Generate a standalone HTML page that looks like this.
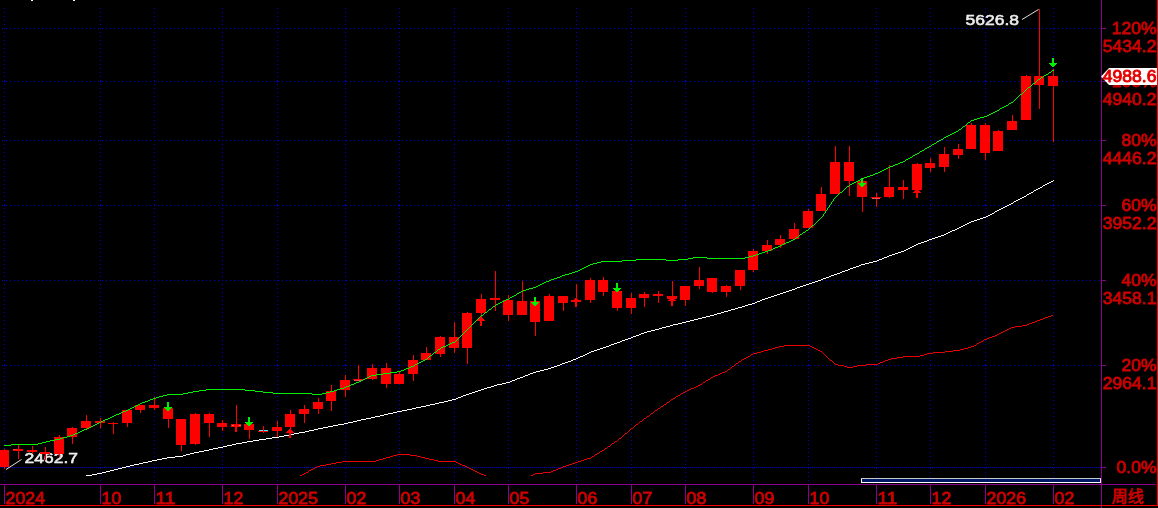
<!DOCTYPE html>
<html lang="zh"><head><meta charset="utf-8"><title>周线</title>
<style>html,body{margin:0;padding:0;background:#000;overflow:hidden}svg{display:block}text{font-family:"Liberation Sans","Noto Sans CJK SC",sans-serif;font-weight:normal;font-size:16px;stroke-width:0.8px;stroke-linejoin:round}</style>
</head><body>
<svg width="1158" height="508" viewBox="0 0 1158 508" shape-rendering="crispEdges">
<rect width="1158" height="508" fill="#000"/>
<rect x="31" y="0" width="2" height="1" fill="#fff"/><rect x="73" y="0" width="2" height="1" fill="#fff"/>
<g stroke="#0000d8" stroke-width="1" fill="none">
<line x1="4.5" y1="8" x2="4.5" y2="481" stroke-dasharray="1 3"/>
<line x1="100.5" y1="8" x2="100.5" y2="481" stroke-dasharray="1 3"/>
<line x1="154.5" y1="8" x2="154.5" y2="481" stroke-dasharray="1 3"/>
<line x1="222.5" y1="8" x2="222.5" y2="481" stroke-dasharray="1 3"/>
<line x1="277.5" y1="8" x2="277.5" y2="481" stroke-dasharray="1 3"/>
<line x1="345.5" y1="8" x2="345.5" y2="481" stroke-dasharray="1 3"/>
<line x1="399.5" y1="8" x2="399.5" y2="481" stroke-dasharray="1 3"/>
<line x1="454.5" y1="8" x2="454.5" y2="481" stroke-dasharray="1 3"/>
<line x1="508.5" y1="8" x2="508.5" y2="481" stroke-dasharray="1 3"/>
<line x1="576.5" y1="8" x2="576.5" y2="481" stroke-dasharray="1 3"/>
<line x1="631.5" y1="8" x2="631.5" y2="481" stroke-dasharray="1 3"/>
<line x1="685.5" y1="8" x2="685.5" y2="481" stroke-dasharray="1 3"/>
<line x1="753.5" y1="8" x2="753.5" y2="481" stroke-dasharray="1 3"/>
<line x1="808.5" y1="8" x2="808.5" y2="481" stroke-dasharray="1 3"/>
<line x1="876.5" y1="8" x2="876.5" y2="481" stroke-dasharray="1 3"/>
<line x1="930.5" y1="8" x2="930.5" y2="481" stroke-dasharray="1 3"/>
<line x1="985.5" y1="8" x2="985.5" y2="481" stroke-dasharray="1 3"/>
<line x1="1053.5" y1="8" x2="1053.5" y2="481" stroke-dasharray="1 3"/>
<line x1="2" y1="28.5" x2="1101" y2="28.5" stroke-dasharray="1 3"/>
<line x1="2" y1="81.5" x2="1101" y2="81.5" stroke-dasharray="1 3"/>
<line x1="2" y1="140.5" x2="1101" y2="140.5" stroke-dasharray="1 3"/>
<line x1="2" y1="205.5" x2="1101" y2="205.5" stroke-dasharray="1 3"/>
<line x1="2" y1="280.5" x2="1101" y2="280.5" stroke-dasharray="1 3"/>
<line x1="2" y1="365.5" x2="1101" y2="365.5" stroke-dasharray="1 3"/>
<line x1="0" y1="467.5" x2="1101" y2="467.5" stroke-dasharray="1 1"/>
</g>
<g fill="#0000d8">
<rect x="4" y="28" width="1" height="1"/>
<rect x="4" y="81" width="1" height="1"/>
<rect x="4" y="140" width="1" height="1"/>
<rect x="4" y="205" width="1" height="1"/>
<rect x="4" y="280" width="1" height="1"/>
<rect x="4" y="365" width="1" height="1"/>
<rect x="100" y="28" width="1" height="1"/>
<rect x="100" y="81" width="1" height="1"/>
<rect x="100" y="140" width="1" height="1"/>
<rect x="100" y="205" width="1" height="1"/>
<rect x="100" y="280" width="1" height="1"/>
<rect x="100" y="365" width="1" height="1"/>
<rect x="154" y="28" width="1" height="1"/>
<rect x="154" y="81" width="1" height="1"/>
<rect x="154" y="140" width="1" height="1"/>
<rect x="154" y="205" width="1" height="1"/>
<rect x="154" y="280" width="1" height="1"/>
<rect x="154" y="365" width="1" height="1"/>
<rect x="222" y="28" width="1" height="1"/>
<rect x="222" y="81" width="1" height="1"/>
<rect x="222" y="140" width="1" height="1"/>
<rect x="222" y="205" width="1" height="1"/>
<rect x="222" y="280" width="1" height="1"/>
<rect x="222" y="365" width="1" height="1"/>
<rect x="277" y="28" width="1" height="1"/>
<rect x="277" y="81" width="1" height="1"/>
<rect x="277" y="140" width="1" height="1"/>
<rect x="277" y="205" width="1" height="1"/>
<rect x="277" y="280" width="1" height="1"/>
<rect x="277" y="365" width="1" height="1"/>
<rect x="345" y="28" width="1" height="1"/>
<rect x="345" y="81" width="1" height="1"/>
<rect x="345" y="140" width="1" height="1"/>
<rect x="345" y="205" width="1" height="1"/>
<rect x="345" y="280" width="1" height="1"/>
<rect x="345" y="365" width="1" height="1"/>
<rect x="399" y="28" width="1" height="1"/>
<rect x="399" y="81" width="1" height="1"/>
<rect x="399" y="140" width="1" height="1"/>
<rect x="399" y="205" width="1" height="1"/>
<rect x="399" y="280" width="1" height="1"/>
<rect x="399" y="365" width="1" height="1"/>
<rect x="454" y="28" width="1" height="1"/>
<rect x="454" y="81" width="1" height="1"/>
<rect x="454" y="140" width="1" height="1"/>
<rect x="454" y="205" width="1" height="1"/>
<rect x="454" y="280" width="1" height="1"/>
<rect x="454" y="365" width="1" height="1"/>
<rect x="508" y="28" width="1" height="1"/>
<rect x="508" y="81" width="1" height="1"/>
<rect x="508" y="140" width="1" height="1"/>
<rect x="508" y="205" width="1" height="1"/>
<rect x="508" y="280" width="1" height="1"/>
<rect x="508" y="365" width="1" height="1"/>
<rect x="576" y="28" width="1" height="1"/>
<rect x="576" y="81" width="1" height="1"/>
<rect x="576" y="140" width="1" height="1"/>
<rect x="576" y="205" width="1" height="1"/>
<rect x="576" y="280" width="1" height="1"/>
<rect x="576" y="365" width="1" height="1"/>
<rect x="631" y="28" width="1" height="1"/>
<rect x="631" y="81" width="1" height="1"/>
<rect x="631" y="140" width="1" height="1"/>
<rect x="631" y="205" width="1" height="1"/>
<rect x="631" y="280" width="1" height="1"/>
<rect x="631" y="365" width="1" height="1"/>
<rect x="685" y="28" width="1" height="1"/>
<rect x="685" y="81" width="1" height="1"/>
<rect x="685" y="140" width="1" height="1"/>
<rect x="685" y="205" width="1" height="1"/>
<rect x="685" y="280" width="1" height="1"/>
<rect x="685" y="365" width="1" height="1"/>
<rect x="753" y="28" width="1" height="1"/>
<rect x="753" y="81" width="1" height="1"/>
<rect x="753" y="140" width="1" height="1"/>
<rect x="753" y="205" width="1" height="1"/>
<rect x="753" y="280" width="1" height="1"/>
<rect x="753" y="365" width="1" height="1"/>
<rect x="808" y="28" width="1" height="1"/>
<rect x="808" y="81" width="1" height="1"/>
<rect x="808" y="140" width="1" height="1"/>
<rect x="808" y="205" width="1" height="1"/>
<rect x="808" y="280" width="1" height="1"/>
<rect x="808" y="365" width="1" height="1"/>
<rect x="876" y="28" width="1" height="1"/>
<rect x="876" y="81" width="1" height="1"/>
<rect x="876" y="140" width="1" height="1"/>
<rect x="876" y="205" width="1" height="1"/>
<rect x="876" y="280" width="1" height="1"/>
<rect x="876" y="365" width="1" height="1"/>
<rect x="930" y="28" width="1" height="1"/>
<rect x="930" y="81" width="1" height="1"/>
<rect x="930" y="140" width="1" height="1"/>
<rect x="930" y="205" width="1" height="1"/>
<rect x="930" y="280" width="1" height="1"/>
<rect x="930" y="365" width="1" height="1"/>
<rect x="985" y="28" width="1" height="1"/>
<rect x="985" y="81" width="1" height="1"/>
<rect x="985" y="140" width="1" height="1"/>
<rect x="985" y="205" width="1" height="1"/>
<rect x="985" y="280" width="1" height="1"/>
<rect x="985" y="365" width="1" height="1"/>
<rect x="1053" y="28" width="1" height="1"/>
<rect x="1053" y="81" width="1" height="1"/>
<rect x="1053" y="140" width="1" height="1"/>
<rect x="1053" y="205" width="1" height="1"/>
<rect x="1053" y="280" width="1" height="1"/>
<rect x="1053" y="365" width="1" height="1"/>
</g>
<clipPath id="cp"><rect x="0" y="0" width="1101" height="476"/></clipPath>
<path d="M397 454h13v1h-13zM393 455h4v1h-4zM410 455h7v1h-7zM390 456h3v1h-3zM417 456h4v1h-4zM386 457h4v1h-4zM421 457h4v1h-4zM383 458h3v1h-3zM425 458h4v1h-4zM379 459h4v1h-4zM429 459h5v1h-5zM376 460h3v1h-3zM434 460h4v1h-4zM342 461h34v1h-34zM438 461h18v1h-18zM336 462h6v1h-6zM456 462h2v1h-2zM331 463h5v1h-5zM458 463h2v1h-2zM326 464h5v1h-5zM460 464h2v1h-2zM320 465h6v1h-6zM462 465h3v1h-3zM317 466h3v1h-3zM465 466h2v1h-2zM315 467h2v1h-2zM467 467h2v1h-2zM313 468h2v1h-2zM469 468h2v1h-2zM311 469h2v1h-2zM471 469h2v1h-2zM309 470h2v1h-2zM473 470h2v1h-2zM308 471h1v1h-1zM475 471h2v1h-2zM306 472h2v1h-2zM477 472h2v1h-2zM304 473h2v1h-2zM479 473h2v1h-2zM302 474h2v1h-2zM481 474h3v1h-3zM300 475h2v1h-2zM484 475h2v1h-2z" fill="#e80000"/>
<path d="M1051 315h2v1h-2zM1048 316h3v1h-3zM1045 317h3v1h-3zM1043 318h2v1h-2zM1040 319h3v1h-3zM1037 320h3v1h-3zM1035 321h2v1h-2zM1032 322h3v1h-3zM1029 323h3v1h-3zM1027 324h2v1h-2zM1022 325h5v1h-5zM1015 326h7v1h-7zM1011 327h4v1h-4zM1009 328h2v1h-2zM1007 329h2v1h-2zM1005 330h2v1h-2zM1003 331h2v1h-2zM1001 332h2v1h-2zM999 333h2v1h-2zM997 334h2v1h-2zM995 335h2v1h-2zM992 336h3v1h-3zM989 337h3v1h-3zM987 338h2v1h-2zM984 339h3v1h-3zM983 340h1v1h-1zM981 341h2v1h-2zM979 342h2v1h-2zM977 343h2v1h-2zM976 344h1v1h-1zM784 345h26v1h-26zM974 345h2v1h-2zM779 346h5v1h-5zM810 346h2v1h-2zM971 346h3v1h-3zM775 347h4v1h-4zM812 347h2v1h-2zM968 347h3v1h-3zM772 348h3v1h-3zM814 348h2v1h-2zM964 348h4v1h-4zM768 349h4v1h-4zM816 349h2v1h-2zM960 349h4v1h-4zM764 350h4v1h-4zM818 350h2v1h-2zM953 350h7v1h-7zM761 351h3v1h-3zM820 351h2v1h-2zM945 351h8v1h-8zM757 352h4v1h-4zM822 352h1v1h-1zM933 352h12v1h-12zM753 353h4v1h-4zM823 353h1v1h-1zM927 353h6v1h-6zM751 354h2v1h-2zM824 354h1v1h-1zM924 354h3v1h-3zM750 355h1v1h-1zM825 355h1v1h-1zM920 355h4v1h-4zM748 356h2v1h-2zM826 356h1v1h-1zM903 356h17v1h-17zM746 357h2v1h-2zM827 357h1v1h-1zM897 357h6v1h-6zM744 358h2v1h-2zM828 358h1v1h-1zM891 358h6v1h-6zM742 359h2v1h-2zM829 359h1v1h-1zM888 359h3v1h-3zM741 360h1v1h-1zM830 360h2v1h-2zM885 360h3v1h-3zM739 361h2v1h-2zM832 361h1v1h-1zM883 361h2v1h-2zM738 362h1v1h-1zM833 362h1v1h-1zM880 362h3v1h-3zM736 363h2v1h-2zM834 363h1v1h-1zM878 363h2v1h-2zM735 364h1v1h-1zM835 364h3v1h-3zM866 364h12v1h-12zM734 365h1v1h-1zM838 365h6v1h-6zM857 365h9v1h-9zM732 366h2v1h-2zM844 366h3v1h-3zM853 366h4v1h-4zM731 367h1v1h-1zM847 367h6v1h-6zM730 368h1v1h-1zM728 369h2v1h-2zM727 370h1v1h-1zM725 371h2v1h-2zM722 372h3v1h-3zM720 373h2v1h-2zM718 374h2v1h-2zM715 375h3v1h-3zM713 376h2v1h-2zM711 377h2v1h-2zM710 378h1v1h-1zM708 379h2v1h-2zM706 380h2v1h-2zM705 381h1v1h-1zM703 382h2v1h-2zM702 383h1v1h-1zM700 384h2v1h-2zM698 385h2v1h-2zM696 386h2v1h-2zM694 387h2v1h-2zM691 388h3v1h-3zM689 389h2v1h-2zM687 390h2v1h-2zM685 391h2v1h-2zM683 392h2v1h-2zM681 393h2v1h-2zM680 394h1v1h-1zM678 395h2v1h-2zM676 396h2v1h-2zM675 397h1v1h-1zM673 398h2v1h-2zM671 399h2v1h-2zM670 400h1v1h-1zM669 401h1v1h-1zM667 402h2v1h-2zM666 403h1v1h-1zM664 404h2v1h-2zM663 405h1v1h-1zM661 406h2v1h-2zM660 407h1v1h-1zM658 408h2v1h-2zM657 409h1v1h-1zM655 410h2v1h-2zM654 411h1v1h-1zM653 412h1v1h-1zM651 413h2v1h-2zM650 414h1v1h-1zM649 415h1v1h-1zM647 416h2v1h-2zM646 417h1v1h-1zM644 418h2v1h-2zM643 419h1v1h-1zM642 420h1v1h-1zM640 421h2v1h-2zM639 422h1v1h-1zM638 423h1v1h-1zM636 424h2v1h-2zM635 425h1v1h-1zM634 426h1v1h-1zM633 427h1v1h-1zM631 428h2v1h-2zM630 429h1v1h-1zM629 430h1v1h-1zM628 431h1v1h-1zM627 432h1v1h-1zM625 433h2v1h-2zM624 434h1v1h-1zM623 435h1v1h-1zM622 436h1v1h-1zM621 437h1v1h-1zM619 438h2v1h-2zM618 439h1v1h-1zM617 440h1v1h-1zM615 441h2v1h-2zM614 442h1v1h-1zM612 443h2v1h-2zM611 444h1v1h-1zM610 445h1v1h-1zM608 446h2v1h-2zM607 447h1v1h-1zM605 448h2v1h-2zM604 449h1v1h-1zM602 450h2v1h-2zM600 451h2v1h-2zM599 452h1v1h-1zM597 453h2v1h-2zM595 454h2v1h-2zM594 455h1v1h-1zM592 456h2v1h-2zM591 457h1v1h-1zM587 458h4v1h-4zM584 459h3v1h-3zM581 460h3v1h-3zM578 461h3v1h-3zM575 462h3v1h-3zM572 463h3v1h-3zM569 464h3v1h-3zM566 465h3v1h-3zM563 466h3v1h-3zM561 467h2v1h-2zM558 468h3v1h-3zM556 469h2v1h-2zM553 470h3v1h-3zM551 471h2v1h-2zM543 472h8v1h-8zM535 473h8v1h-8zM533 474h2v1h-2zM531 475h2v1h-2z" fill="#e80000"/>
<g shape-rendering="auto"><line x1="6" y1="469.5" x2="21.5" y2="459.5" stroke="#e0e0e0" stroke-width="1"/><line x1="1022" y1="19.5" x2="1038.5" y2="9.5" stroke="#e0e0e0" stroke-width="1"/></g>
<text x="24.5" y="463.4" fill="#ececec" stroke="#ececec" style="stroke-width:0.6px;font-size:15.5px" textLength="53.5" lengthAdjust="spacingAndGlyphs">2462.7</text>
<text x="965.5" y="25.4" fill="#ececec" stroke="#ececec" style="stroke-width:0.6px;font-size:15.5px" textLength="53.5" lengthAdjust="spacingAndGlyphs">5626.8</text>
<g fill="#ff0000">
<rect x="0" y="450" width="9" height="17"/><rect x="4" y="449" width="1" height="20"/>
<rect x="54" y="437" width="10" height="17"/><rect x="59" y="435" width="1" height="22"/>
<rect x="67" y="428" width="10" height="9"/><rect x="72" y="427" width="1" height="17"/>
<rect x="81" y="421" width="10" height="7"/><rect x="86" y="415" width="1" height="15"/>
<rect x="122" y="410" width="10" height="13"/><rect x="127" y="410" width="1" height="17"/>
<rect x="135" y="405" width="10" height="5"/><rect x="140" y="405" width="1" height="8"/>
<rect x="149" y="405" width="10" height="3"/><rect x="154" y="397" width="1" height="13"/>
<rect x="163" y="408" width="10" height="11"/><rect x="168" y="408" width="1" height="20"/>
<rect x="176" y="419" width="10" height="26"/><rect x="181" y="419" width="1" height="32"/>
<rect x="190" y="414" width="10" height="30"/><rect x="195" y="413" width="1" height="32"/>
<rect x="204" y="414" width="10" height="9"/><rect x="209" y="413" width="1" height="24"/>
<rect x="217" y="423" width="10" height="4"/><rect x="222" y="420" width="1" height="11"/>
<rect x="244" y="424" width="10" height="6"/><rect x="249" y="424" width="1" height="15"/>
<rect x="272" y="427" width="10" height="4"/><rect x="277" y="421" width="1" height="16"/>
<rect x="285" y="414" width="10" height="13"/><rect x="290" y="410" width="1" height="19"/>
<rect x="299" y="409" width="10" height="5"/><rect x="304" y="405" width="1" height="18"/>
<rect x="313" y="402" width="10" height="7"/><rect x="318" y="398" width="1" height="16"/>
<rect x="326" y="391" width="10" height="10"/><rect x="331" y="385" width="1" height="26"/>
<rect x="340" y="380" width="10" height="10"/><rect x="345" y="375" width="1" height="22"/>
<rect x="367" y="368" width="10" height="11"/><rect x="372" y="364" width="1" height="16"/>
<rect x="381" y="368" width="10" height="16"/><rect x="386" y="363" width="1" height="25"/>
<rect x="394" y="374" width="10" height="10"/><rect x="399" y="371" width="1" height="13"/>
<rect x="408" y="360" width="10" height="14"/><rect x="413" y="355" width="1" height="26"/>
<rect x="421" y="353" width="10" height="7"/><rect x="426" y="347" width="1" height="13"/>
<rect x="435" y="337" width="10" height="17"/><rect x="440" y="336" width="1" height="21"/>
<rect x="449" y="337" width="10" height="11"/><rect x="454" y="322" width="1" height="31"/>
<rect x="462" y="313" width="10" height="35"/><rect x="467" y="312" width="1" height="52"/>
<rect x="476" y="299" width="10" height="14"/><rect x="481" y="294" width="1" height="23"/>
<rect x="503" y="300" width="10" height="15"/><rect x="508" y="295" width="1" height="26"/>
<rect x="517" y="301" width="10" height="14"/><rect x="522" y="281" width="1" height="34"/>
<rect x="530" y="301" width="10" height="21"/><rect x="535" y="301" width="1" height="35"/>
<rect x="544" y="296" width="10" height="25"/><rect x="549" y="294" width="1" height="27"/>
<rect x="558" y="296" width="10" height="7"/><rect x="563" y="296" width="1" height="15"/>
<rect x="585" y="280" width="10" height="20"/><rect x="590" y="278" width="1" height="25"/>
<rect x="598" y="280" width="10" height="12"/><rect x="603" y="277" width="1" height="19"/>
<rect x="612" y="291" width="10" height="17"/><rect x="617" y="291" width="1" height="20"/>
<rect x="626" y="298" width="10" height="10"/><rect x="631" y="293" width="1" height="21"/>
<rect x="639" y="294" width="10" height="4"/><rect x="644" y="292" width="1" height="15"/>
<rect x="667" y="296" width="10" height="3"/><rect x="672" y="281" width="1" height="18"/>
<rect x="680" y="286" width="10" height="14"/><rect x="685" y="286" width="1" height="20"/>
<rect x="694" y="280" width="10" height="6"/><rect x="699" y="267" width="1" height="22"/>
<rect x="707" y="278" width="10" height="14"/><rect x="712" y="278" width="1" height="15"/>
<rect x="721" y="286" width="10" height="6"/><rect x="726" y="285" width="1" height="12"/>
<rect x="735" y="270" width="10" height="16"/><rect x="740" y="270" width="1" height="20"/>
<rect x="748" y="251" width="10" height="19"/><rect x="753" y="249" width="1" height="23"/>
<rect x="762" y="245" width="10" height="6"/><rect x="767" y="240" width="1" height="14"/>
<rect x="775" y="239" width="10" height="6"/><rect x="780" y="235" width="1" height="13"/>
<rect x="789" y="229" width="10" height="10"/><rect x="794" y="223" width="1" height="16"/>
<rect x="803" y="211" width="10" height="17"/><rect x="808" y="209" width="1" height="19"/>
<rect x="816" y="194" width="10" height="17"/><rect x="821" y="187" width="1" height="24"/>
<rect x="830" y="162" width="10" height="32"/><rect x="835" y="146" width="1" height="48"/>
<rect x="844" y="162" width="10" height="19"/><rect x="849" y="146" width="1" height="50"/>
<rect x="857" y="181" width="10" height="16"/><rect x="862" y="181" width="1" height="31"/>
<rect x="884" y="187" width="10" height="10"/><rect x="889" y="165" width="1" height="33"/>
<rect x="898" y="187" width="10" height="3"/><rect x="903" y="180" width="1" height="19"/>
<rect x="912" y="164" width="10" height="26"/><rect x="917" y="163" width="1" height="27"/>
<rect x="925" y="163" width="10" height="5"/><rect x="930" y="158" width="1" height="14"/>
<rect x="939" y="154" width="10" height="13"/><rect x="944" y="147" width="1" height="25"/>
<rect x="953" y="149" width="10" height="6"/><rect x="958" y="144" width="1" height="15"/>
<rect x="966" y="125" width="10" height="24"/><rect x="971" y="123" width="1" height="26"/>
<rect x="980" y="125" width="10" height="28"/><rect x="985" y="123" width="1" height="37"/>
<rect x="993" y="131" width="10" height="20"/><rect x="998" y="130" width="1" height="21"/>
<rect x="1007" y="121" width="10" height="9"/><rect x="1012" y="115" width="1" height="15"/>
<rect x="1021" y="76" width="10" height="44"/><rect x="1026" y="75" width="1" height="45"/>
<rect x="1034" y="76" width="10" height="9"/><rect x="1039" y="9" width="1" height="100"/>
<rect x="1048" y="76" width="10" height="10"/><rect x="1053" y="69" width="1" height="73"/>
<rect x="13" y="449" width="10" height="2"/><rect x="18" y="445" width="1" height="14"/>
<rect x="27" y="450" width="10" height="2"/><rect x="32" y="446" width="1" height="8"/>
<rect x="40" y="452" width="10" height="2"/><rect x="45" y="447" width="1" height="13"/>
<rect x="95" y="421" width="10" height="2"/><rect x="100" y="418" width="1" height="10"/>
<rect x="108" y="423" width="10" height="1"/><rect x="113" y="422" width="1" height="12"/>
<rect x="231" y="424" width="10" height="3"/><rect x="236" y="405" width="1" height="22"/>
<rect x="490" y="298" width="10" height="2"/><rect x="495" y="271" width="1" height="40"/>
<rect x="571" y="300" width="10" height="2"/><rect x="576" y="284" width="1" height="23"/>
<rect x="653" y="294" width="10" height="2"/><rect x="658" y="291" width="1" height="12"/>
<rect x="235" y="427" width="2" height="5"/>
<rect x="263" y="426" width="1" height="7"/><rect x="258" y="431" width="10" height="1"/>
<rect x="358" y="365" width="1" height="15"/><rect x="353" y="379" width="10" height="1"/>
<rect x="876" y="193" width="1" height="14"/><rect x="871" y="197" width="10" height="1"/>
</g>
<rect x="259" y="430" width="9" height="1" fill="#4de6f0"/>
<rect x="354" y="380" width="8" height="1" fill="#e8506a"/>
<rect x="872" y="198" width="8" height="1" fill="#e8506a"/>
<rect x="263" y="430" width="1" height="1" fill="#ff0000"/>
<rect x="232" y="425" width="2" height="1" fill="#f06070"/><rect x="239" y="425" width="2" height="1" fill="#f06070"/><rect x="13" y="449" width="4" height="1" fill="#ff3848"/>
<path d="M1053 180h1v1h-1zM1051 181h2v1h-2zM1049 182h2v1h-2zM1047 183h2v1h-2zM1045 184h2v1h-2zM1043 185h2v1h-2zM1042 186h1v1h-1zM1040 187h2v1h-2zM1038 188h2v1h-2zM1036 189h2v1h-2zM1034 190h2v1h-2zM1033 191h1v1h-1zM1031 192h2v1h-2zM1029 193h2v1h-2zM1027 194h2v1h-2zM1026 195h1v1h-1zM1024 196h2v1h-2zM1022 197h2v1h-2zM1020 198h2v1h-2zM1018 199h2v1h-2zM1016 200h2v1h-2zM1014 201h2v1h-2zM1013 202h1v1h-1zM1011 203h2v1h-2zM1009 204h2v1h-2zM1007 205h2v1h-2zM1005 206h2v1h-2zM1003 207h2v1h-2zM1001 208h2v1h-2zM999 209h2v1h-2zM997 210h2v1h-2zM995 211h2v1h-2zM994 212h1v1h-1zM992 213h2v1h-2zM990 214h2v1h-2zM988 215h2v1h-2zM986 216h2v1h-2zM983 217h3v1h-3zM980 218h3v1h-3zM977 219h3v1h-3zM974 220h3v1h-3zM971 221h3v1h-3zM969 222h2v1h-2zM967 223h2v1h-2zM965 224h2v1h-2zM963 225h2v1h-2zM961 226h2v1h-2zM959 227h2v1h-2zM957 228h2v1h-2zM955 229h2v1h-2zM952 230h3v1h-3zM950 231h2v1h-2zM948 232h2v1h-2zM946 233h2v1h-2zM944 234h2v1h-2zM941 235h3v1h-3zM938 236h3v1h-3zM935 237h3v1h-3zM932 238h3v1h-3zM929 239h3v1h-3zM927 240h2v1h-2zM924 241h3v1h-3zM921 242h3v1h-3zM918 243h3v1h-3zM916 244h2v1h-2zM914 245h2v1h-2zM912 246h2v1h-2zM910 247h2v1h-2zM908 248h2v1h-2zM906 249h2v1h-2zM904 250h2v1h-2zM901 251h3v1h-3zM898 252h3v1h-3zM895 253h3v1h-3zM892 254h3v1h-3zM889 255h3v1h-3zM887 256h2v1h-2zM884 257h3v1h-3zM882 258h2v1h-2zM879 259h3v1h-3zM877 260h2v1h-2zM873 261h4v1h-4zM869 262h4v1h-4zM865 263h4v1h-4zM861 264h4v1h-4zM859 265h2v1h-2zM856 266h3v1h-3zM853 267h3v1h-3zM850 268h3v1h-3zM848 269h2v1h-2zM845 270h3v1h-3zM842 271h3v1h-3zM840 272h2v1h-2zM837 273h3v1h-3zM834 274h3v1h-3zM831 275h3v1h-3zM829 276h2v1h-2zM826 277h3v1h-3zM823 278h3v1h-3zM821 279h2v1h-2zM818 280h3v1h-3zM815 281h3v1h-3zM812 282h3v1h-3zM809 283h3v1h-3zM806 284h3v1h-3zM803 285h3v1h-3zM800 286h3v1h-3zM797 287h3v1h-3zM795 288h2v1h-2zM792 289h3v1h-3zM789 290h3v1h-3zM786 291h3v1h-3zM783 292h3v1h-3zM780 293h3v1h-3zM777 294h3v1h-3zM774 295h3v1h-3zM771 296h3v1h-3zM768 297h3v1h-3zM765 298h3v1h-3zM762 299h3v1h-3zM760 300h2v1h-2zM757 301h3v1h-3zM755 302h2v1h-2zM752 303h3v1h-3zM748 304h4v1h-4zM745 305h3v1h-3zM742 306h3v1h-3zM738 307h4v1h-4zM735 308h3v1h-3zM731 309h4v1h-4zM728 310h3v1h-3zM724 311h4v1h-4zM721 312h3v1h-3zM717 313h4v1h-4zM714 314h3v1h-3zM710 315h4v1h-4zM706 316h4v1h-4zM702 317h4v1h-4zM698 318h4v1h-4zM694 319h4v1h-4zM690 320h4v1h-4zM686 321h4v1h-4zM682 322h4v1h-4zM678 323h4v1h-4zM673 324h5v1h-5zM670 325h3v1h-3zM666 326h4v1h-4zM662 327h4v1h-4zM659 328h3v1h-3zM655 329h4v1h-4zM651 330h4v1h-4zM647 331h4v1h-4zM644 332h3v1h-3zM641 333h3v1h-3zM639 334h2v1h-2zM636 335h3v1h-3zM633 336h3v1h-3zM631 337h2v1h-2zM628 338h3v1h-3zM625 339h3v1h-3zM622 340h3v1h-3zM620 341h2v1h-2zM617 342h3v1h-3zM614 343h3v1h-3zM611 344h3v1h-3zM609 345h2v1h-2zM606 346h3v1h-3zM603 347h3v1h-3zM600 348h3v1h-3zM597 349h3v1h-3zM594 350h3v1h-3zM591 351h3v1h-3zM589 352h2v1h-2zM587 353h2v1h-2zM585 354h2v1h-2zM583 355h2v1h-2zM580 356h3v1h-3zM578 357h2v1h-2zM576 358h2v1h-2zM573 359h3v1h-3zM571 360h2v1h-2zM568 361h3v1h-3zM565 362h3v1h-3zM562 363h3v1h-3zM560 364h2v1h-2zM557 365h3v1h-3zM554 366h3v1h-3zM551 367h3v1h-3zM548 368h3v1h-3zM544 369h4v1h-4zM540 370h4v1h-4zM536 371h4v1h-4zM533 372h3v1h-3zM530 373h3v1h-3zM528 374h2v1h-2zM525 375h3v1h-3zM523 376h2v1h-2zM520 377h3v1h-3zM517 378h3v1h-3zM515 379h2v1h-2zM512 380h3v1h-3zM510 381h2v1h-2zM506 382h4v1h-4zM502 383h4v1h-4zM497 384h5v1h-5zM494 385h3v1h-3zM491 386h3v1h-3zM487 387h4v1h-4zM484 388h3v1h-3zM481 389h3v1h-3zM478 390h3v1h-3zM475 391h3v1h-3zM472 392h3v1h-3zM469 393h3v1h-3zM466 394h3v1h-3zM463 395h3v1h-3zM461 396h2v1h-2zM458 397h3v1h-3zM456 398h2v1h-2zM452 399h4v1h-4zM448 400h4v1h-4zM444 401h4v1h-4zM439 402h5v1h-5zM435 403h4v1h-4zM430 404h5v1h-5zM426 405h4v1h-4zM421 406h5v1h-5zM416 407h5v1h-5zM412 408h4v1h-4zM407 409h5v1h-5zM402 410h5v1h-5zM397 411h5v1h-5zM393 412h4v1h-4zM388 413h5v1h-5zM384 414h4v1h-4zM380 415h4v1h-4zM375 416h5v1h-5zM371 417h4v1h-4zM366 418h5v1h-5zM361 419h5v1h-5zM357 420h4v1h-4zM353 421h4v1h-4zM348 422h5v1h-5zM344 423h4v1h-4zM338 424h6v1h-6zM333 425h5v1h-5zM328 426h5v1h-5zM323 427h5v1h-5zM318 428h5v1h-5zM314 429h4v1h-4zM309 430h5v1h-5zM305 431h4v1h-4zM299 432h6v1h-6zM294 433h5v1h-5zM289 434h5v1h-5zM284 435h5v1h-5zM279 436h5v1h-5zM272 437h7v1h-7zM266 438h6v1h-6zM259 439h7v1h-7zM253 440h6v1h-6zM247 441h6v1h-6zM242 442h5v1h-5zM236 443h6v1h-6zM232 444h4v1h-4zM227 445h5v1h-5zM223 446h4v1h-4zM218 447h5v1h-5zM213 448h5v1h-5zM209 449h4v1h-4zM204 450h5v1h-5zM199 451h5v1h-5zM194 452h5v1h-5zM190 453h4v1h-4zM186 454h4v1h-4zM183 455h3v1h-3zM175 456h8v1h-8zM167 457h8v1h-8zM162 458h5v1h-5zM157 459h5v1h-5zM152 460h5v1h-5zM148 461h4v1h-4zM143 462h5v1h-5zM139 463h4v1h-4zM134 464h5v1h-5zM130 465h4v1h-4zM126 466h4v1h-4zM122 467h4v1h-4zM118 468h4v1h-4zM114 469h4v1h-4zM110 470h4v1h-4zM106 471h4v1h-4zM102 472h4v1h-4zM97 473h5v1h-5zM92 474h5v1h-5zM86 475h6v1h-6z" fill="#ffffff"/>
<path d="M1052 70h2v1h-2zM1051 71h1v1h-1zM1049 72h2v1h-2zM1048 73h1v1h-1zM1046 74h2v1h-2zM1044 75h2v1h-2zM1043 76h1v1h-1zM1041 77h2v1h-2zM1040 78h1v1h-1zM1038 79h2v1h-2zM1037 80h1v1h-1zM1036 81h1v1h-1zM1035 82h1v1h-1zM1033 83h2v1h-2zM1032 84h1v1h-1zM1031 85h1v1h-1zM1030 86h1v1h-1zM1028 87h2v1h-2zM1027 88h1v1h-1zM1026 89h1v1h-1zM1025 90h1v1h-1zM1024 91h1v1h-1zM1023 92h1v1h-1zM1022 93h1v1h-1zM1020 94h2v1h-2zM1019 95h1v1h-1zM1018 96h1v1h-1zM1017 97h1v1h-1zM1016 98h1v1h-1zM1015 99h1v1h-1zM1014 100h1v1h-1zM1013 101h1v1h-1zM1011 102h2v1h-2zM1009 103h2v1h-2zM1008 104h1v1h-1zM1006 105h2v1h-2zM1004 106h2v1h-2zM1002 107h2v1h-2zM1000 108h2v1h-2zM999 109h1v1h-1zM997 110h2v1h-2zM995 111h2v1h-2zM993 112h2v1h-2zM991 113h2v1h-2zM989 114h2v1h-2zM987 115h2v1h-2zM984 116h3v1h-3zM980 117h4v1h-4zM977 118h3v1h-3zM974 119h3v1h-3zM971 120h3v1h-3zM970 121h1v1h-1zM968 122h2v1h-2zM967 123h1v1h-1zM966 124h1v1h-1zM965 125h1v1h-1zM963 126h2v1h-2zM962 127h1v1h-1zM961 128h1v1h-1zM959 129h2v1h-2zM958 130h1v1h-1zM956 131h2v1h-2zM954 132h2v1h-2zM952 133h2v1h-2zM950 134h2v1h-2zM948 135h2v1h-2zM946 136h2v1h-2zM944 137h2v1h-2zM943 138h1v1h-1zM941 139h2v1h-2zM939 140h2v1h-2zM937 141h2v1h-2zM936 142h1v1h-1zM934 143h2v1h-2zM932 144h2v1h-2zM931 145h1v1h-1zM929 146h2v1h-2zM927 147h2v1h-2zM925 148h2v1h-2zM924 149h1v1h-1zM922 150h2v1h-2zM920 151h2v1h-2zM919 152h1v1h-1zM917 153h2v1h-2zM915 154h2v1h-2zM913 155h2v1h-2zM912 156h1v1h-1zM910 157h2v1h-2zM908 158h2v1h-2zM906 159h2v1h-2zM905 160h1v1h-1zM903 161h2v1h-2zM900 162h3v1h-3zM898 163h2v1h-2zM895 164h3v1h-3zM893 165h2v1h-2zM890 166h3v1h-3zM888 167h2v1h-2zM886 168h2v1h-2zM884 169h2v1h-2zM882 170h2v1h-2zM880 171h2v1h-2zM878 172h2v1h-2zM875 173h3v1h-3zM873 174h2v1h-2zM870 175h3v1h-3zM867 176h3v1h-3zM864 177h3v1h-3zM862 178h2v1h-2zM860 179h2v1h-2zM858 180h2v1h-2zM856 181h2v1h-2zM854 182h2v1h-2zM852 183h2v1h-2zM850 184h2v1h-2zM849 185h1v1h-1zM847 186h2v1h-2zM846 187h1v1h-1zM845 188h1v1h-1zM844 189h1v1h-1zM843 190h1v1h-1zM842 191h1v1h-1zM840 192h2v1h-2zM839 193h1v1h-1zM838 194h1v1h-1zM837 195h1v1h-1zM836 196h1v1h-1zM835 197h1v1h-1zM834 198h1v1h-1zM833 199h1v1h-1zM833 200h1v1h-1zM832 201h1v1h-1zM831 202h1v1h-1zM831 203h1v1h-1zM830 204h1v1h-1zM829 205h1v1h-1zM829 206h1v1h-1zM828 207h1v1h-1zM827 208h1v1h-1zM827 209h1v1h-1zM826 210h1v1h-1zM825 211h1v1h-1zM825 212h1v1h-1zM824 213h1v1h-1zM823 214h1v1h-1zM823 215h1v1h-1zM822 216h1v1h-1zM821 217h1v1h-1zM820 218h1v1h-1zM819 219h1v1h-1zM818 220h1v1h-1zM817 221h1v1h-1zM816 222h1v1h-1zM815 223h1v1h-1zM814 224h1v1h-1zM812 225h2v1h-2zM811 226h1v1h-1zM810 227h1v1h-1zM809 228h1v1h-1zM808 229h1v1h-1zM806 230h2v1h-2zM805 231h1v1h-1zM803 232h2v1h-2zM802 233h1v1h-1zM800 234h2v1h-2zM799 235h1v1h-1zM798 236h1v1h-1zM796 237h2v1h-2zM795 238h1v1h-1zM793 239h2v1h-2zM791 240h2v1h-2zM789 241h2v1h-2zM786 242h3v1h-3zM784 243h2v1h-2zM782 244h2v1h-2zM780 245h2v1h-2zM778 246h2v1h-2zM775 247h3v1h-3zM773 248h2v1h-2zM771 249h2v1h-2zM768 250h3v1h-3zM765 251h3v1h-3zM762 252h3v1h-3zM759 253h3v1h-3zM756 254h3v1h-3zM753 255h3v1h-3zM749 256h4v1h-4zM693 257h14v1h-14zM745 257h4v1h-4zM688 258h5v1h-5zM707 258h38v1h-38zM636 259h30v1h-30zM678 259h10v1h-10zM622 260h14v1h-14zM666 260h12v1h-12zM601 261h21v1h-21zM597 262h4v1h-4zM593 263h4v1h-4zM590 264h3v1h-3zM588 265h2v1h-2zM586 266h2v1h-2zM584 267h2v1h-2zM582 268h2v1h-2zM580 269h2v1h-2zM578 270h2v1h-2zM575 271h3v1h-3zM572 272h3v1h-3zM569 273h3v1h-3zM565 274h4v1h-4zM562 275h3v1h-3zM560 276h2v1h-2zM557 277h3v1h-3zM554 278h3v1h-3zM551 279h3v1h-3zM549 280h2v1h-2zM546 281h3v1h-3zM544 282h2v1h-2zM542 283h2v1h-2zM540 284h2v1h-2zM538 285h2v1h-2zM536 286h2v1h-2zM533 287h3v1h-3zM529 288h4v1h-4zM526 289h3v1h-3zM523 290h3v1h-3zM521 291h2v1h-2zM519 292h2v1h-2zM517 293h2v1h-2zM516 294h1v1h-1zM514 295h2v1h-2zM512 296h2v1h-2zM510 297h2v1h-2zM509 298h1v1h-1zM506 299h3v1h-3zM504 300h2v1h-2zM502 301h2v1h-2zM500 302h2v1h-2zM498 303h2v1h-2zM496 304h2v1h-2zM495 305h1v1h-1zM493 306h2v1h-2zM492 307h1v1h-1zM491 308h1v1h-1zM489 309h2v1h-2zM488 310h1v1h-1zM487 311h1v1h-1zM485 312h2v1h-2zM484 313h1v1h-1zM483 314h1v1h-1zM481 315h2v1h-2zM480 316h1v1h-1zM479 317h1v1h-1zM478 318h1v1h-1zM477 319h1v1h-1zM476 320h1v1h-1zM475 321h1v1h-1zM474 322h1v1h-1zM473 323h1v1h-1zM472 324h1v1h-1zM471 325h1v1h-1zM470 326h1v1h-1zM469 327h1v1h-1zM468 328h1v1h-1zM467 329h1v1h-1zM466 330h1v1h-1zM465 331h1v1h-1zM464 332h1v1h-1zM463 333h1v1h-1zM462 334h1v1h-1zM461 335h1v1h-1zM460 336h1v1h-1zM459 337h1v1h-1zM458 338h1v1h-1zM457 339h1v1h-1zM456 340h1v1h-1zM455 341h1v1h-1zM452 342h3v1h-3zM450 343h2v1h-2zM448 344h2v1h-2zM446 345h2v1h-2zM443 346h3v1h-3zM441 347h2v1h-2zM440 348h1v1h-1zM438 349h2v1h-2zM437 350h1v1h-1zM436 351h1v1h-1zM434 352h2v1h-2zM433 353h1v1h-1zM432 354h1v1h-1zM430 355h2v1h-2zM429 356h1v1h-1zM428 357h1v1h-1zM427 358h1v1h-1zM425 359h2v1h-2zM423 360h2v1h-2zM421 361h2v1h-2zM419 362h2v1h-2zM417 363h2v1h-2zM415 364h2v1h-2zM414 365h1v1h-1zM411 366h3v1h-3zM409 367h2v1h-2zM406 368h3v1h-3zM404 369h2v1h-2zM401 370h3v1h-3zM397 371h4v1h-4zM390 372h7v1h-7zM383 373h7v1h-7zM376 374h7v1h-7zM371 375h5v1h-5zM369 376h2v1h-2zM367 377h2v1h-2zM365 378h2v1h-2zM363 379h2v1h-2zM361 380h2v1h-2zM359 381h2v1h-2zM356 382h3v1h-3zM354 383h2v1h-2zM351 384h3v1h-3zM349 385h2v1h-2zM346 386h3v1h-3zM344 387h2v1h-2zM340 388h4v1h-4zM206 389h39v1h-39zM337 389h3v1h-3zM199 390h7v1h-7zM245 390h10v1h-10zM334 390h3v1h-3zM193 391h6v1h-6zM255 391h8v1h-8zM330 391h4v1h-4zM188 392h5v1h-5zM263 392h10v1h-10zM326 392h4v1h-4zM183 393h5v1h-5zM273 393h39v1h-39zM322 393h4v1h-4zM167 394h16v1h-16zM312 394h10v1h-10zM163 395h4v1h-4zM159 396h4v1h-4zM156 397h3v1h-3zM153 398h3v1h-3zM150 399h3v1h-3zM148 400h2v1h-2zM145 401h3v1h-3zM142 402h3v1h-3zM140 403h2v1h-2zM138 404h2v1h-2zM136 405h2v1h-2zM134 406h2v1h-2zM132 407h2v1h-2zM130 408h2v1h-2zM128 409h2v1h-2zM126 410h2v1h-2zM123 411h3v1h-3zM121 412h2v1h-2zM119 413h2v1h-2zM116 414h3v1h-3zM114 415h2v1h-2zM112 416h2v1h-2zM110 417h2v1h-2zM108 418h2v1h-2zM105 419h3v1h-3zM103 420h2v1h-2zM101 421h2v1h-2zM99 422h2v1h-2zM97 423h2v1h-2zM95 424h2v1h-2zM93 425h2v1h-2zM91 426h2v1h-2zM89 427h2v1h-2zM87 428h2v1h-2zM84 429h3v1h-3zM82 430h2v1h-2zM80 431h2v1h-2zM78 432h2v1h-2zM75 433h3v1h-3zM73 434h2v1h-2zM70 435h3v1h-3zM67 436h3v1h-3zM63 437h4v1h-4zM60 438h3v1h-3zM55 439h5v1h-5zM50 440h5v1h-5zM46 441h4v1h-4zM42 442h4v1h-4zM38 443h4v1h-4zM11 444h27v1h-27zM4 445h7v1h-7z" fill="#00f000"/>
<g fill="#ff0000"><rect x="289" y="429" width="2" height="1"/><rect x="288" y="430" width="4" height="1"/><rect x="287" y="431" width="6" height="1"/><rect x="286" y="432" width="8" height="1"/><rect x="289" y="433" width="2" height="5"/><rect x="480" y="317" width="2" height="1"/><rect x="479" y="318" width="4" height="1"/><rect x="478" y="319" width="6" height="1"/><rect x="477" y="320" width="8" height="1"/><rect x="480" y="321" width="2" height="5"/><rect x="916" y="189" width="2" height="1"/><rect x="915" y="190" width="4" height="1"/><rect x="914" y="191" width="6" height="1"/><rect x="913" y="192" width="8" height="1"/><rect x="916" y="193" width="2" height="5"/><rect x="671" y="297" width="2" height="1"/><rect x="670" y="298" width="4" height="1"/><rect x="669" y="299" width="6" height="1"/><rect x="668" y="300" width="8" height="1"/><rect x="671" y="301" width="2" height="5"/><rect x="575" y="298" width="2" height="1"/><rect x="574" y="299" width="4" height="1"/><rect x="573" y="300" width="6" height="1"/><rect x="572" y="301" width="8" height="1"/><rect x="575" y="302" width="2" height="5"/></g>
<g fill="#00f000"><rect x="167" y="402" width="2" height="5"/><rect x="164" y="407" width="8" height="1"/><rect x="165" y="408" width="6" height="1"/><rect x="166" y="409" width="4" height="1"/><rect x="167" y="410" width="2" height="1"/><rect x="248" y="417" width="2" height="5"/><rect x="245" y="422" width="8" height="1"/><rect x="246" y="423" width="6" height="1"/><rect x="247" y="424" width="4" height="1"/><rect x="248" y="425" width="2" height="1"/><rect x="534" y="297" width="2" height="5"/><rect x="531" y="302" width="8" height="1"/><rect x="532" y="303" width="6" height="1"/><rect x="533" y="304" width="4" height="1"/><rect x="534" y="305" width="2" height="1"/><rect x="616" y="283" width="2" height="5"/><rect x="613" y="288" width="8" height="1"/><rect x="614" y="289" width="6" height="1"/><rect x="615" y="290" width="4" height="1"/><rect x="616" y="291" width="2" height="1"/><rect x="861" y="178" width="2" height="5"/><rect x="858" y="183" width="8" height="1"/><rect x="859" y="184" width="6" height="1"/><rect x="860" y="185" width="4" height="1"/><rect x="861" y="186" width="2" height="1"/><rect x="1052" y="58" width="2" height="5"/><rect x="1049" y="63" width="8" height="1"/><rect x="1050" y="64" width="6" height="1"/><rect x="1051" y="65" width="4" height="1"/><rect x="1052" y="66" width="2" height="1"/></g>
<rect x="861" y="478" width="240" height="5" fill="#fff"/><rect x="861" y="478" width="240" height="1" fill="#c8c8c8"/><rect x="862" y="479" width="238" height="3" fill="#001868"/>
<g fill="#8c008c">
<rect x="0" y="484" width="1156" height="1"/>
<rect x="1101" y="0" width="1" height="508"/>
<rect x="4" y="484" width="1" height="20"/>
<rect x="100" y="484" width="1" height="20"/>
<rect x="154" y="484" width="1" height="20"/>
<rect x="222" y="484" width="1" height="20"/>
<rect x="277" y="484" width="1" height="20"/>
<rect x="345" y="484" width="1" height="20"/>
<rect x="399" y="484" width="1" height="20"/>
<rect x="454" y="484" width="1" height="20"/>
<rect x="508" y="484" width="1" height="20"/>
<rect x="576" y="484" width="1" height="20"/>
<rect x="631" y="484" width="1" height="20"/>
<rect x="685" y="484" width="1" height="20"/>
<rect x="753" y="484" width="1" height="20"/>
<rect x="808" y="484" width="1" height="20"/>
<rect x="876" y="484" width="1" height="20"/>
<rect x="930" y="484" width="1" height="20"/>
<rect x="985" y="484" width="1" height="20"/>
<rect x="1053" y="484" width="1" height="20"/>
<rect x="1102" y="28" width="4" height="1"/>
<rect x="1102" y="81" width="4" height="1"/>
<rect x="1102" y="140" width="4" height="1"/>
<rect x="1102" y="205" width="4" height="1"/>
<rect x="1102" y="280" width="4" height="1"/>
<rect x="1102" y="365" width="4" height="1"/>
<rect x="1102" y="467" width="4" height="1"/>
</g>
<rect x="0" y="505" width="1158" height="1" fill="#ff0000"/><rect x="1157" y="0" width="1" height="506" fill="#ff0000"/>
<text x="1111.7" y="33.5" fill="#cc0000" stroke="#cc0000" textLength="44.9" lengthAdjust="spacingAndGlyphs">120%</text>
<text x="1102.8" y="51.5" fill="#cc0000" stroke="#cc0000" textLength="53.6" lengthAdjust="spacingAndGlyphs">5434.2</text>
<text x="1111.7" y="86.5" fill="#cc0000" stroke="#cc0000" textLength="44.9" lengthAdjust="spacingAndGlyphs">100%</text>
<text x="1102.8" y="104.5" fill="#cc0000" stroke="#cc0000" textLength="53.6" lengthAdjust="spacingAndGlyphs">4940.2</text>
<text x="1121.4" y="145.5" fill="#cc0000" stroke="#cc0000" textLength="35.1" lengthAdjust="spacingAndGlyphs">80%</text>
<text x="1102.8" y="163.5" fill="#cc0000" stroke="#cc0000" textLength="53.6" lengthAdjust="spacingAndGlyphs">4446.2</text>
<text x="1121.4" y="210.5" fill="#cc0000" stroke="#cc0000" textLength="35.1" lengthAdjust="spacingAndGlyphs">60%</text>
<text x="1102.8" y="228.5" fill="#cc0000" stroke="#cc0000" textLength="53.6" lengthAdjust="spacingAndGlyphs">3952.2</text>
<text x="1121.4" y="285.5" fill="#cc0000" stroke="#cc0000" textLength="35.1" lengthAdjust="spacingAndGlyphs">40%</text>
<text x="1102.8" y="303.5" fill="#cc0000" stroke="#cc0000" textLength="53.6" lengthAdjust="spacingAndGlyphs">3458.1</text>
<text x="1121.4" y="370.5" fill="#cc0000" stroke="#cc0000" textLength="35.1" lengthAdjust="spacingAndGlyphs">20%</text>
<text x="1102.8" y="388.5" fill="#cc0000" stroke="#cc0000" textLength="53.6" lengthAdjust="spacingAndGlyphs">2964.1</text>
<text x="1116.5" y="472.5" fill="#cc0000" stroke="#cc0000" textLength="40.0" lengthAdjust="spacingAndGlyphs">0.0%</text>
<polygon points="1101,76.5 1109,68 1157,68 1157,85 1109,85" fill="#fff" shape-rendering="auto"/>
<text x="1102.8" y="81.5" fill="#e60000" stroke="#e60000" style="stroke-width:0.85px" textLength="53.6" lengthAdjust="spacingAndGlyphs">4988.6</text>
<text x="5.5" y="504.1" fill="#cc0000" stroke="#cc0000" textLength="39.6" lengthAdjust="spacingAndGlyphs">2024</text>
<text x="101.5" y="504.1" fill="#cc0000" stroke="#cc0000" textLength="19.8" lengthAdjust="spacingAndGlyphs">10</text>
<text x="155.5" y="504.1" fill="#cc0000" stroke="#cc0000" textLength="19.8" lengthAdjust="spacingAndGlyphs">11</text>
<text x="223.5" y="504.1" fill="#cc0000" stroke="#cc0000" textLength="19.8" lengthAdjust="spacingAndGlyphs">12</text>
<text x="278.5" y="504.1" fill="#cc0000" stroke="#cc0000" textLength="39.6" lengthAdjust="spacingAndGlyphs">2025</text>
<text x="346.5" y="504.1" fill="#cc0000" stroke="#cc0000" textLength="19.8" lengthAdjust="spacingAndGlyphs">02</text>
<text x="400.5" y="504.1" fill="#cc0000" stroke="#cc0000" textLength="19.8" lengthAdjust="spacingAndGlyphs">03</text>
<text x="455.5" y="504.1" fill="#cc0000" stroke="#cc0000" textLength="19.8" lengthAdjust="spacingAndGlyphs">04</text>
<text x="509.5" y="504.1" fill="#cc0000" stroke="#cc0000" textLength="19.8" lengthAdjust="spacingAndGlyphs">05</text>
<text x="577.5" y="504.1" fill="#cc0000" stroke="#cc0000" textLength="19.8" lengthAdjust="spacingAndGlyphs">06</text>
<text x="632.5" y="504.1" fill="#cc0000" stroke="#cc0000" textLength="19.8" lengthAdjust="spacingAndGlyphs">07</text>
<text x="686.5" y="504.1" fill="#cc0000" stroke="#cc0000" textLength="19.8" lengthAdjust="spacingAndGlyphs">08</text>
<text x="754.5" y="504.1" fill="#cc0000" stroke="#cc0000" textLength="19.8" lengthAdjust="spacingAndGlyphs">09</text>
<text x="809.5" y="504.1" fill="#cc0000" stroke="#cc0000" textLength="19.8" lengthAdjust="spacingAndGlyphs">10</text>
<text x="877.5" y="504.1" fill="#cc0000" stroke="#cc0000" textLength="19.8" lengthAdjust="spacingAndGlyphs">11</text>
<text x="931.5" y="504.1" fill="#cc0000" stroke="#cc0000" textLength="19.8" lengthAdjust="spacingAndGlyphs">12</text>
<text x="986.5" y="504.1" fill="#cc0000" stroke="#cc0000" textLength="39.6" lengthAdjust="spacingAndGlyphs">2026</text>
<text x="1054.5" y="504.1" fill="#cc0000" stroke="#cc0000" textLength="19.8" lengthAdjust="spacingAndGlyphs">02</text>
<text x="1112" y="502" fill="#cc0000" stroke="#cc0000" style="font-size:16px">周线</text>
</svg></body></html>
